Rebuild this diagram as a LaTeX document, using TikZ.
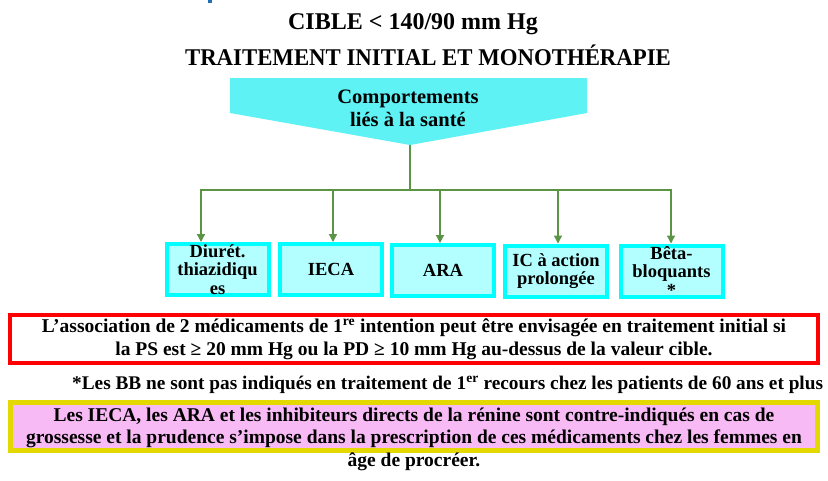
\documentclass[tikz,border=0pt]{standalone}
\usepackage{fontspec}
\setmainfont{Liberation Serif}
\usetikzlibrary{arrows.meta}
\definecolor{headcyan}{HTML}{5EF2F5}
\definecolor{boxcyan}{HTML}{00FFFF}
\definecolor{boxfill}{HTML}{B3FFFF}
\definecolor{lgreen}{HTML}{5B9445}
\definecolor{redb}{HTML}{FF0000}
\definecolor{yelb}{HTML}{E3D800}
\definecolor{pinkf}{HTML}{F8BAF5}
\definecolor{topblue}{HTML}{1F6FB5}
\tikzset{
  drug/.style={draw=boxcyan, fill=boxfill, line width=4pt, minimum width=102pt, minimum height=51pt, inner sep=0pt, align=center, font=\fontsize{18.5}{18.5}\selectfont\bfseries},
  conn/.style={draw=lgreen, line width=1.3pt},
  arr/.style={conn, -{Triangle[width=8pt,length=8pt]}},
  ttl/.style={inner sep=0pt, font=\fontsize{24}{28}\selectfont\bfseries},
  body/.style={inner sep=0pt, align=center, font=\fontsize{19.5}{22.5}\selectfont\bfseries}
}
\begin{document}
\begin{tikzpicture}[x=1pt, y=-1pt]
\useasboundingbox (0,0) rectangle (828,480);
\fill[white] (0,0) rectangle (828,480);
\fill[topblue] (208,0) rectangle (212,3);
\node[ttl] (t1) at (413,24) {CIBLE < 140/90 mm Hg};
\node[ttl, xscale=0.95] (t2) at (428,55) {TRAITEMENT INITIAL ET MONOTHÉRAPIE};
\fill[headcyan] (230,78) -- (587,78) -- (587,113) -- (410,145) -- (230,113) -- cycle;
\node[inner sep=0pt, align=center, font=\fontsize{20.5}{23}\selectfont\bfseries] (head) at (408,108) {Comportements\\liés à la santé};
\coordinate (tip) at (410,145);
\coordinate (j) at (410,190);
\node[drug] (d1) at (217.5,269.5) {Diurét.\\thiazidiqu\\es};
\node[drug] (d2) at (331,269.5) {IECA};
\node[drug] (d3) at (443,270.5) {ARA};
\node[drug] (d4) at (556,271) {IC à action\\prolongée};
\node[drug] (d5) at (671.5,271) {Bêta-\\bloquants\\*};
\draw[conn] (tip) -- (j);
\foreach \b/\x in {d1/201,d2/333,d3/440,d4/558,d5/671}{
  \draw[arr] (j) -| (\x,190) -- (\b.north -| \x,0);
}
\node[draw=redb, line width=4pt, fill=white, minimum width=808pt, minimum height=48pt] (red) at (414,339) {};
\node[body] (redt) at (414,339) {L’association de 2 médicaments de 1\textsuperscript{re} intention peut être envisagée en traitement initial si\\la PS est ≥ 20 mm Hg ou la PD ≥ 10 mm Hg au-dessus de la valeur cible.};
\node[body, anchor=west, font=\fontsize{19.3}{22}\selectfont\bfseries] (foot) at (72,385) {*Les BB ne sont pas indiqués en traitement de 1\textsuperscript{er} recours chez les patients de 60 ans et plus};
\node[draw=yelb, line width=5pt, fill=pinkf, minimum width=807pt, minimum height=48pt] (yel) at (414,426.5) {};
\node[body] (yelt) at (414,439) {Les IECA, les ARA et les inhibiteurs directs de la rénine sont contre-indiqués en cas de\\grossesse et la prudence s’impose dans la prescription de ces médicaments chez les femmes en\\âge de procréer.};
\end{tikzpicture}
\end{document}
